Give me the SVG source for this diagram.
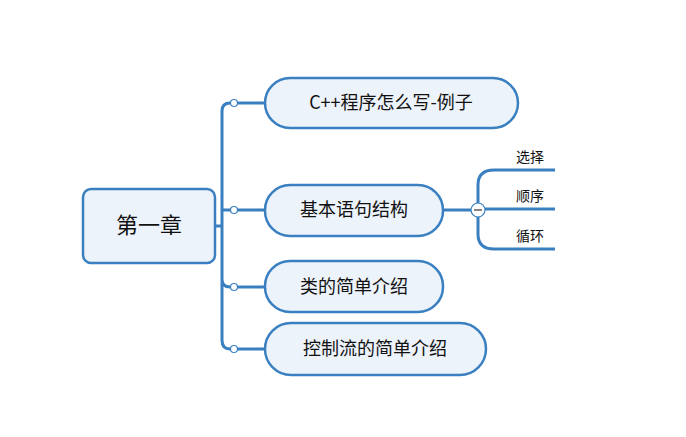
<svg xmlns="http://www.w3.org/2000/svg" width="686" height="437" viewBox="0 0 686 437">
<style>
.n{fill:#edf3fa;stroke:#3a80c1;stroke-width:2.5}
.c{fill:none;stroke:#3a80c1;stroke-width:3}
.d{fill:#fff;stroke:#3a80c1;stroke-width:1.2}
text{font-family:"Noto Sans CJK SC","Liberation Sans",sans-serif;fill:#111}
.t{font-size:18px}
.s{font-size:14px}
</style>
<rect width="686" height="437" fill="#fff"/>
<g id="connectors">
<path class="c" d="M215 226H222M234 103H230Q222 103 222 111V340Q222 349 230 349H234M222 210Q222 210 230 210H234M222 279Q222 287 230 287H234"/>
<path class="c" d="M234 103H266M234 210H266M234 287H266M234 349H266"/>
<path class="c" d="M443 210H478M478 210V185Q478 170 494 170H555M478 209H555M478 210V234Q478 249 494 249H555"/>
<circle class="d" cx="234" cy="103" r="3.5"/>
<circle class="d" cx="234" cy="210" r="3.5"/>
<circle class="d" cx="234" cy="287" r="3.5"/>
<circle class="d" cx="234" cy="349" r="3.5"/>
<circle class="d" cx="478" cy="210" r="7"/>
<path d="M474 210H482" stroke="#333" stroke-width="1.2"/>
</g>
<g id="root"><rect class="n" x="83" y="189" width="132" height="74" rx="8"/><text x="149" y="233" text-anchor="middle" font-size="22">第一章</text></g>
<g id="n1"><rect class="n" x="265" y="78" width="253" height="50" rx="25"/><text class="t" x="391" y="109" text-anchor="middle">C++程序怎么写-例子</text></g>
<g id="n2"><rect class="n" x="265" y="185" width="178" height="51" rx="25"/><text class="t" x="354" y="216" text-anchor="middle">基本语句结构</text></g>
<g id="n3"><rect class="n" x="265" y="261" width="178" height="51" rx="25"/><text class="t" x="354" y="293" text-anchor="middle">类的简单介绍</text></g>
<g id="n4"><rect class="n" x="265" y="323" width="221" height="52" rx="26"/><text class="t" x="375" y="355" text-anchor="middle">控制流的简单介绍</text></g>
<g id="l1"><text class="s" x="516" y="162">选择</text></g>
<g id="l2"><text class="s" x="516" y="201">顺序</text></g>
<g id="l3"><text class="s" x="516" y="241">循环</text></g>
</svg>
